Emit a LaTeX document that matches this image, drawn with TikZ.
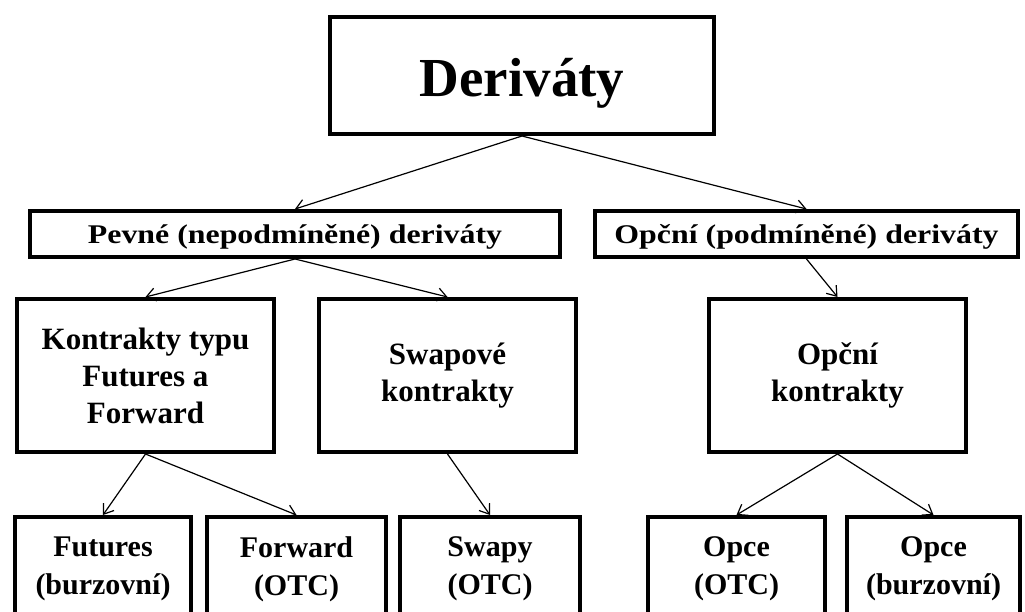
\documentclass[tikz,border=0pt]{standalone}
\usepackage{fontspec}
\setmainfont{Liberation Serif}
\usepackage{tikz}
\usetikzlibrary{arrows.meta}
\usetikzlibrary{calc}
\tikzset{>={Straight Barb[length=9pt,width=13pt]}}
\tikzstyle{bbox}=[black,draw=black,line width=4pt,shape=rectangle,fill=white,align=center,inner sep=0pt]
\tikzstyle{topbox}=[bbox,text height=43pt,text depth=0pt,font=\bfseries\fontsize{55}{60}\selectfont]
\tikzstyle{midbox}=[bbox,text height=20pt,text depth=0pt,font=\bfseries\fontsize{27}{30}\selectfont\addfontfeature{FakeStretch=1.18}]
\tikzstyle{catbox}=[bbox,minimum width=257,minimum height=153,font=\bfseries\fontsize{31}{37}\selectfont]
\tikzstyle{leafbox}=[bbox,minimum height=104,font=\bfseries\fontsize{30}{38}\selectfont]
\tikzstyle{taro}=[->,line width=1.2pt,color=black]

\begin{document}
\begin{tikzpicture}[x=1pt,y=-1pt]
	
	\useasboundingbox (0,0) rectangle (1025,612);
	\clip (0,0) rectangle (1025,612);
	
	% Top
	\node[topbox, minimum width=384, minimum height=117] (deriv) at (522, 75.5) {Deriváty};
	
	% Second row
	\node[midbox, minimum width=530, minimum height=46] (pevne) at (295, 234) {Pevné (nepodmíněné) deriváty};
	\node[midbox, minimum width=423, minimum height=46] (opcni) at (806.5, 234) {Opční (podmíněné) deriváty};
	\draw[taro] (deriv.south) -- (pevne.north);
	\draw[taro] (deriv.south) -- (opcni.north);
	
	% Third row
	\node[catbox] (kontr) at (145.5, 375.5) {Kontrakty typu\\Futures a\\Forward};
	\node[catbox] (swap) at (447.5, 375.5) {Swapové\\kontrakty};
	\node[catbox] (okontr) at (837.5, 375.5) {Opční\\kontrakty};
	\draw[taro] (pevne.south) -- (kontr.north);
	\draw[taro] (pevne.south) -- (swap.north);
	\draw[taro] (opcni.south) -- (okontr.north);
	
	% Bottom row
	\node[leafbox, minimum width=176] (fut) at (103, 569) {Futures\\(burzovní)};
	\node[leafbox, minimum width=179] (fwd) at (296.5, 569) {Forward\\(OTC)};
	\node[leafbox, minimum width=180] (swapy) at (490, 569) {Swapy\\(OTC)};
	\node[leafbox, minimum width=177] (opotc) at (736.5, 569) {Opce\\(OTC)};
	\node[leafbox, minimum width=173] (opbur) at (933.5, 569) {Opce\\(burzovní)};
	\draw[taro] (kontr.south) -- (fut.north);
	\draw[taro] (kontr.south) -- (fwd.north);
	\draw[taro] (swap.south) -- (swapy.north);
	\draw[taro] (okontr.south) -- (opotc.north);
	\draw[taro] (okontr.south) -- (opbur.north);
	
\end{tikzpicture}
\end{document}
